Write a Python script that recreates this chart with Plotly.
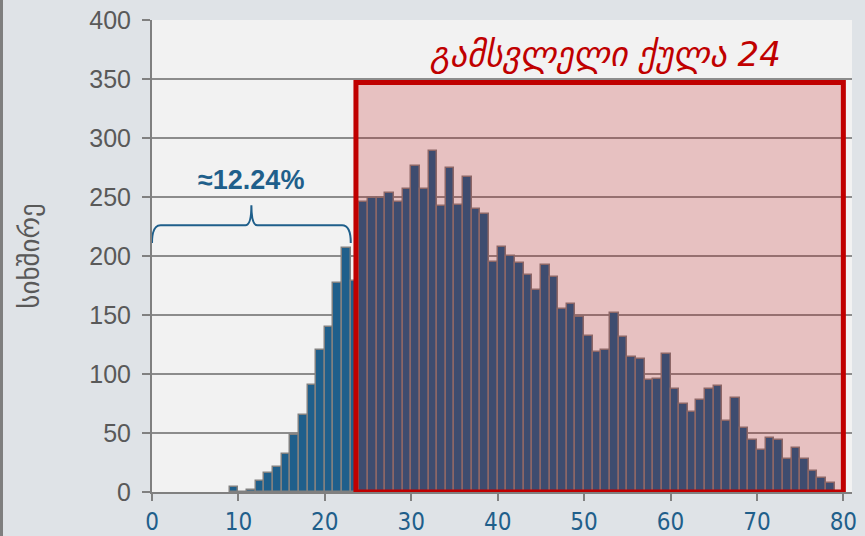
import plotly.graph_objects as go

# Score histogram (number of students per score)
scores = list(range(9, 79))
counts = [4, 0, 2, 9, 16, 21, 32, 48, 65, 91, 120, 140, 177, 207, 179,
          246, 249, 249, 253, 246, 257, 276, 257, 289, 242, 275, 243, 267, 240, 236,
          195, 208, 200, 194, 184, 171, 192, 182, 155, 159, 148, 132, 119, 120, 152,
          131, 114, 113, 95, 96, 117, 87, 75, 68, 78, 87, 90, 60, 80, 54,
          44, 36, 46, 44, 28, 37, 28, 18, 12, 8]

pass_score = 24
share_below = "≈12.24%"
title_text = "გამსვლელი ქულა 24"
y_title = "სიხშირე"

BLUE = "#1f5f8b"
RED = "#c00000"
GREY_TXT = "#595959"

fig = go.Figure()
fig.add_trace(go.Bar(
    x=scores,
    y=counts,
    width=1,
    offset=0,
    marker=dict(color=BLUE, line=dict(color="#808080", width=1.5)),
    showlegend=False,
))

# passing-score region
fig.add_shape(type="rect", xref="x", yref="y",
              x0=pass_score - 0.4, x1=80, y0=0, y1=347,
              fillcolor="rgba(192,0,0,0.2)",
              line=dict(color=RED, width=5), layer="above")

# curly brace over the failing scores
fig.add_shape(type="path", xref="x", yref="y",
              path="M 0,211 Q 0,226 1,226 L 10.8,226 Q 11.5,226 11.5,243 "
                   "Q 11.5,226 12.2,226 L 22,226 Q 23,226 23,211",
              line=dict(color=BLUE, width=2))

fig.add_annotation(x=11.5, y=264, xref="x", yref="y", text="<b>" + share_below + "</b>",
                   showarrow=False, font=dict(size=27, color=BLUE, family="Liberation Sans, Arial"))

fig.add_annotation(x=52.5, y=371, xref="x", yref="y", text="<i>" + title_text + "</i>",
                   showarrow=False, font=dict(size=34, color=RED, family="DejaVu Sans"))

# thin dark border on the left edge of the picture
fig.add_shape(type="rect", xref="paper", yref="paper",
              x0=-152 / 700, x1=-149 / 700, y0=-44 / 472, y1=1 + 20 / 472,
              fillcolor="#7f7f7f", line=dict(width=0), layer="below")

fig.update_layout(
    width=865, height=536,
    margin=dict(l=152, r=13, t=20, b=44),
    paper_bgcolor="#dfe3e7",
    plot_bgcolor="#f2f2f2",
    bargap=0,
    font=dict(family="Liberation Sans, Arial", color=GREY_TXT),
)
fig.update_xaxes(
    range=[0, 81], tickvals=list(range(0, 81, 10)),
    showgrid=False, zeroline=False, automargin=False,
    showline=True, linecolor="#808080", linewidth=2,
    ticks="outside", ticklen=7, tickwidth=2, tickcolor="#808080",
    tickfont=dict(size=24, color=BLUE, family="Liberation Sans Narrow, DejaVu Sans Condensed, Arial"),
)
fig.update_yaxes(
    range=[0, 400], tickvals=list(range(0, 401, 50)),
    showgrid=True, gridcolor="#8c8c8c", gridwidth=1.5, zeroline=False, automargin=False,
    showline=True, linecolor="#808080", linewidth=2,
    ticks="outside", ticklen=8, tickwidth=2, tickcolor="#808080",
    tickfont=dict(size=25, color=GREY_TXT), ticklabelstandoff=6,
    title=dict(text=y_title, font=dict(size=27, color=GREY_TXT, family="DejaVu Sans"), standoff=42),
)

fig.write_html("out.html", config={"displayModeBar": False},
               post_script="document.body.style.margin='0';")
